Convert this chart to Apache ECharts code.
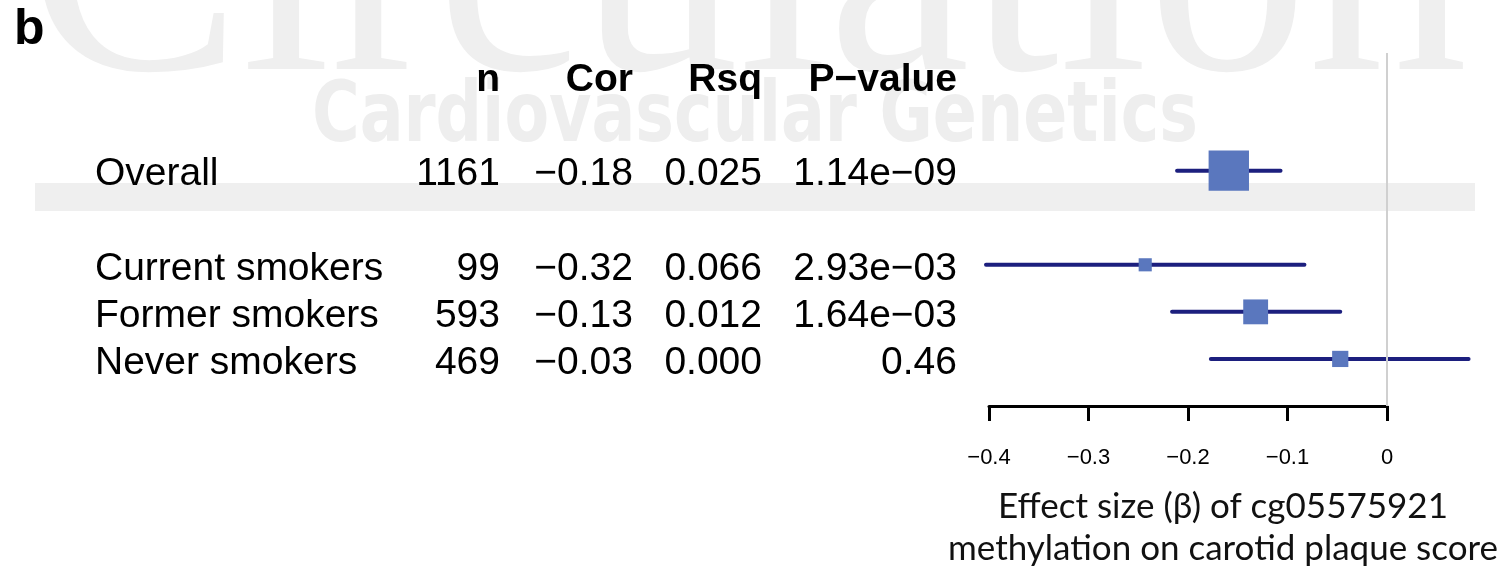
<!DOCTYPE html>
<html>
<head>
<meta charset="utf-8">
<script src="https://cdn.jsdelivr.net/npm/echarts@6/dist/echarts.min.js"></script>
<style>
  html, body { margin: 0; padding: 0; background: #ffffff; }
  #chart { width: 1511px; height: 575px; }
</style>
</head>
<body>
<div id="chart"></div>
<script>
// ---- data ----
const groups = ['Overall', 'Current smokers', 'Former smokers', 'Never smokers'];
const rowSlots = [0, 2, 3, 4];            // table row of each group (one blank row after Overall)
const headerSlot = -2;
const columnHeaders = ['n', 'Cor', 'Rsq', 'P\u2212value'];
const sampleSizes = [1161, 99, 593, 469];
const correlations = [-0.18, -0.32, -0.13, -0.03];
const rSquared = [0.025, 0.066, 0.012, 0.000];
const pValues = [1.14e-9, 2.93e-3, 1.64e-3, 0.46];
const betas = [-0.159, -0.243, -0.132, -0.047];
const ciLower = [-0.211, -0.403, -0.216, -0.177];
const ciUpper = [-0.107, -0.083, -0.047, 0.082];
const axisTitle = 'Effect size (\u03b2) of cg05575921\nmethylation on carotid plaque score';

// ---- formatting helpers ----
const MINUS = '\u2212';
const signed = (v, d) => v.toFixed(d).replace('-', MINUS);
function formatP(p) {
  if (p >= 0.01) return p.toFixed(2);
  const [mant, exp] = p.toExponential(2).split('e');
  const e = Math.abs(parseInt(exp, 10));
  return mant + 'e' + (parseInt(exp, 10) < 0 ? MINUS : '+') + String(e).padStart(2, '0');
}

// table columns: text anchor x and alignment
const TABLE_FONT = '"Liberation Sans", Arial, sans-serif';
const TEXT_SHIFT = 4;      // baseline tweak so digits sit centred on the row
const columns = [
  { x: 95, align: 'left' },
  { x: 500, align: 'right' },
  { x: 633, align: 'right' },
  { x: 762, align: 'right' },
  { x: 957, align: 'right' }
];
const BOX_SCALE = 4.2;     // box side (px) = BOX_SCALE / CI width
const LINE_COLOR = '#1c1f7e';
const BOX_COLOR = '#5a77be';

const chart = echarts.init(document.getElementById('chart'), null, { renderer: 'canvas' });

function textCell(text, col, y, bold) {
  return {
    type: 'text',
    style: {
      text: text,
      x: col.x,
      y: y + TEXT_SHIFT,
      align: col.align,
      verticalAlign: 'middle',
      fontFamily: TABLE_FONT,
      fontSize: 39,
      fontWeight: bold ? 'bold' : 'normal',
      fill: '#000000'
    }
  };
}

const option = {
  backgroundColor: '#ffffff',
  animation: false,
  graphic: {
    elements: [
      {
        type: 'text', z: -10, silent: true,
        style: {
          text: 'Circulation', x: 28, y: -15, verticalAlign: 'middle',
          fontFamily: '"Liberation Serif", "DejaVu Serif", serif', fontSize: 320,
          fill: '#efefef'
        }
      },
      {
        type: 'text', z: -10, silent: true,
        x: 312, y: 119, scaleX: 0.86,
        style: {
          text: 'Cardiovascular Genetics', x: 0, y: 0, verticalAlign: 'middle',
          fontFamily: '"Liberation Sans Narrow", "DejaVu Sans Condensed", sans-serif',
          fontSize: 84, fontWeight: 'bold', fill: '#eeeeee'
        }
      },
      {
        type: 'rect', z: -9, silent: true,
        shape: { x: 35, y: 183, width: 1440, height: 28 },
        style: { fill: '#efefef' }
      },
      {
        type: 'text', z: 5, silent: true,
        style: {
          text: 'b', x: 14, y: 30, verticalAlign: 'middle',
          fontFamily: TABLE_FONT, fontSize: 50, fontWeight: 'bold', fill: '#000000'
        }
      }
    ]
  },
  grid: { left: 989, right: 124, top: 53, bottom: 163, containLabel: false },
  xAxis: {
    type: 'value',
    min: -0.4,
    max: 0,
    interval: 0.1,
    position: 'bottom',
    axisLine: { show: true, onZero: false, lineStyle: { color: '#000000', width: 3 } },
    axisTick: { show: true, inside: false, length: 15, lineStyle: { color: '#000000', width: 3 } },
    axisLabel: {
      margin: 41,
      fontFamily: TABLE_FONT,
      fontSize: 22,
      color: '#000000',
      formatter: v => (Math.abs(v) < 1e-9 ? '0' : signed(v, 1))
    },
    splitLine: { show: false },
    name: axisTitle,
    nameLocation: 'middle',
    nameGap: 80,
    nameTextStyle: {
      fontFamily: 'Lato, "Open Sans", sans-serif',
      fontSize: 35,
      lineHeight: 42,
      color: '#111111',
      padding: [0, 0, 0, 70]
    }
  },
  yAxis: {
    type: 'value',
    inverse: true,
    min: -2.5,
    max: 5,
    show: false
  },
  series: [
    {
      // vertical reference line at zero effect
      type: 'line',
      data: [],
      z: 1,
      silent: true,
      markLine: {
        silent: true,
        symbol: ['none', 'none'],
        label: { show: false },
        lineStyle: { color: '#d0d0d0', width: 2, type: 'solid' },
        data: [{ xAxis: 0 }]
      }
    },
    {
      // column headers
      type: 'custom',
      z: 3,
      data: [[-0.4, headerSlot]],
      renderItem: function (params, api) {
        const y = api.coord([api.value(0), api.value(1)])[1];
        return {
          type: 'group',
          children: columnHeaders.map((h, k) => textCell(h, columns[k + 1], y, true))
        };
      }
    },
    {
      // table rows
      type: 'custom',
      z: 3,
      data: groups.map((g, i) => [-0.4, rowSlots[i]]),
      renderItem: function (params, api) {
        const i = params.dataIndex;
        const y = api.coord([api.value(0), api.value(1)])[1];
        const cells = [
          groups[i],
          String(sampleSizes[i]),
          signed(correlations[i], 2),
          rSquared[i].toFixed(3),
          formatP(pValues[i])
        ];
        return {
          type: 'group',
          children: cells.map((t, k) => textCell(t, columns[k], y, false))
        };
      }
    },
    {
      // effect estimates with confidence intervals
      type: 'custom',
      z: 4,
      data: groups.map((g, i) => [betas[i], rowSlots[i], ciLower[i], ciUpper[i]]),
      encode: { x: [0, 2, 3], y: 1 },
      renderItem: function (params, api) {
        const row = api.value(1);
        const c = api.coord([api.value(0), row]);
        const lo = api.coord([api.value(2), row]);
        const hi = api.coord([api.value(3), row]);
        const size = BOX_SCALE / (api.value(3) - api.value(2));
        return {
          type: 'group',
          children: [
            {
              type: 'line',
              shape: { x1: lo[0], y1: lo[1], x2: hi[0], y2: hi[1] },
              style: { stroke: LINE_COLOR, lineWidth: 4, lineCap: 'round' }
            },
            {
              type: 'rect',
              shape: { x: c[0] - size / 2, y: c[1] - size / 2, width: size, height: size },
              style: { fill: BOX_COLOR }
            }
          ]
        };
      }
    }
  ]
};

chart.setOption(option);
</script>
</body>
</html>
